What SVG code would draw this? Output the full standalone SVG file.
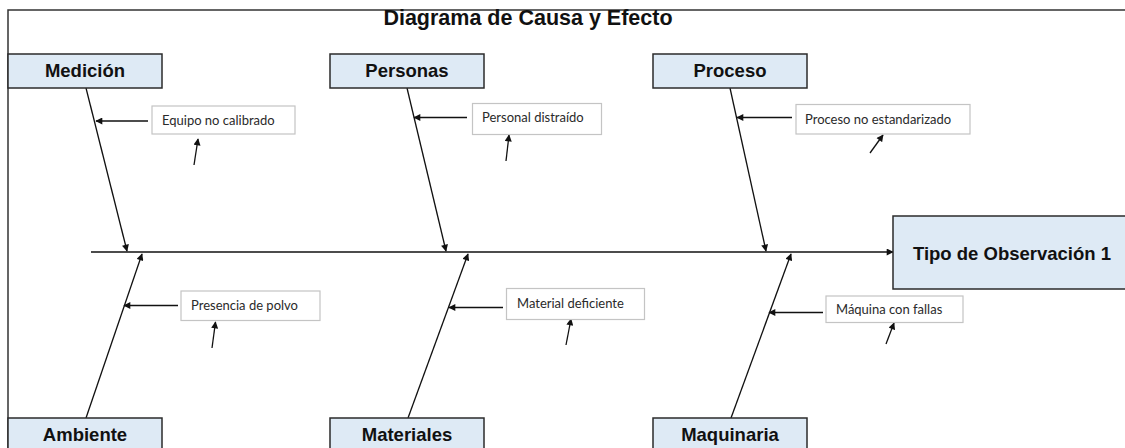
<svg xmlns="http://www.w3.org/2000/svg" width="1125" height="448" viewBox="0 0 1125 448">
<defs>
<marker id="ah" viewBox="0 0 10 10" refX="9" refY="5" markerWidth="8" markerHeight="7" markerUnits="userSpaceOnUse" orient="auto">
<path d="M0,0 L10,5 L0,10 z" fill="#111"/>
</marker>
<style>
.cat{fill:#deeaf5;stroke:#2b2b2b;stroke-width:1.5}
.catt{font-family:"Liberation Sans",Arial,sans-serif;font-weight:bold;font-size:18.5px;fill:#111;text-anchor:middle}
.cause{fill:#fff;stroke:#c4c4c4;stroke-width:1.2}
.causet{font-family:Lato,"Open Sans",sans-serif;font-size:13px;fill:#2a2a2a}
.ln{stroke:#222;stroke-width:1.3;fill:none}
.ar{stroke:#111;stroke-width:1.3;fill:none;marker-end:url(#ah)}
</style>
</defs>
<rect width="1125" height="448" fill="#fff"/>
<g id="frame">
<path d="M8,448 L8,10 L1125,10" fill="none" stroke="#333" stroke-width="1.5"/>
</g>
<text x="528" y="25" font-family="'Liberation Sans',Arial,sans-serif" font-weight="bold" font-size="21.5" fill="#111" text-anchor="middle">Diagrama de Causa y Efecto</text>

<g id="connectors">
<line class="ar" x1="91" y1="252" x2="893" y2="252"/>
<line class="ar" x1="86" y1="88" x2="127" y2="251"/>
<line class="ar" x1="407" y1="88" x2="446" y2="251"/>
<line class="ar" x1="730" y1="88" x2="766" y2="251"/>
<line class="ar" x1="86" y1="418" x2="142" y2="254"/>
<line class="ar" x1="408" y1="418" x2="468" y2="254"/>
<line class="ar" x1="731" y1="418" x2="791" y2="254"/>
<line class="ar" x1="148" y1="121" x2="96" y2="121"/>
<line class="ar" x1="467" y1="117.5" x2="414" y2="117.5"/>
<line class="ar" x1="792" y1="117.5" x2="737" y2="117.5"/>
<line class="ar" x1="178" y1="305.5" x2="124" y2="305.5"/>
<line class="ar" x1="503" y1="307.5" x2="449" y2="307.5"/>
<line class="ar" x1="823" y1="312.5" x2="769" y2="312.5"/>
<line class="ar" x1="194" y1="165" x2="198" y2="139"/>
<line class="ar" x1="506" y1="161" x2="509" y2="135"/>
<line class="ar" x1="870" y1="153" x2="883" y2="135"/>
<line class="ar" x1="212" y1="348" x2="215.5" y2="322"/>
<line class="ar" x1="566" y1="345" x2="571" y2="319"/>
<line class="ar" x1="886" y1="344" x2="894" y2="323"/>
</g>

<g id="effect">
<rect class="cat" x="893" y="216" width="240" height="73"/>
<text class="catt" x="1012" y="260">Tipo de Observación 1</text>
</g>
<g id="medicion">
<rect class="cat" x="8" y="54" width="154" height="34"/>
<text class="catt" x="85" y="77">Medición</text>
</g>
<g id="personas">
<rect class="cat" x="330" y="54" width="154" height="34"/>
<text class="catt" x="407" y="77">Personas</text>
</g>
<g id="proceso">
<rect class="cat" x="653" y="54" width="154" height="34"/>
<text class="catt" x="730" y="77">Proceso</text>
</g>
<g id="ambiente">
<rect class="cat" x="8" y="418" width="154" height="40"/>
<text class="catt" x="85" y="441">Ambiente</text>
</g>
<g id="materiales">
<rect class="cat" x="330" y="418" width="154" height="40"/>
<text class="catt" x="407" y="441">Materiales</text>
</g>
<g id="maquinaria">
<rect class="cat" x="653" y="418" width="154" height="40"/>
<text class="catt" x="730" y="441">Maquinaria</text>
</g>

<g id="c-equipo">
<rect class="cause" x="152" y="106" width="143" height="28"/>
<text class="causet" x="162" y="124.5">Equipo no calibrado</text>
</g>
<g id="c-personal">
<rect class="cause" x="472.5" y="103.5" width="129" height="31"/>
<text class="causet" x="482" y="121.5">Personal distraído</text>
</g>
<g id="c-proceso">
<rect class="cause" x="796" y="104.5" width="174" height="29.5"/>
<text class="causet" x="805" y="123.5">Proceso no estandarizado</text>
</g>
<g id="c-polvo">
<rect class="cause" x="181" y="291" width="139" height="29.5"/>
<text class="causet" x="191" y="310">Presencia de polvo</text>
</g>
<g id="c-material">
<rect class="cause" x="506.5" y="288.5" width="138" height="31"/>
<text class="causet" x="517" y="308">Material deficiente</text>
</g>
<g id="c-maquina">
<rect class="cause" x="826" y="296" width="137" height="26.5"/>
<text class="causet" x="836" y="314">Máquina con fallas</text>
</g>
</svg>
